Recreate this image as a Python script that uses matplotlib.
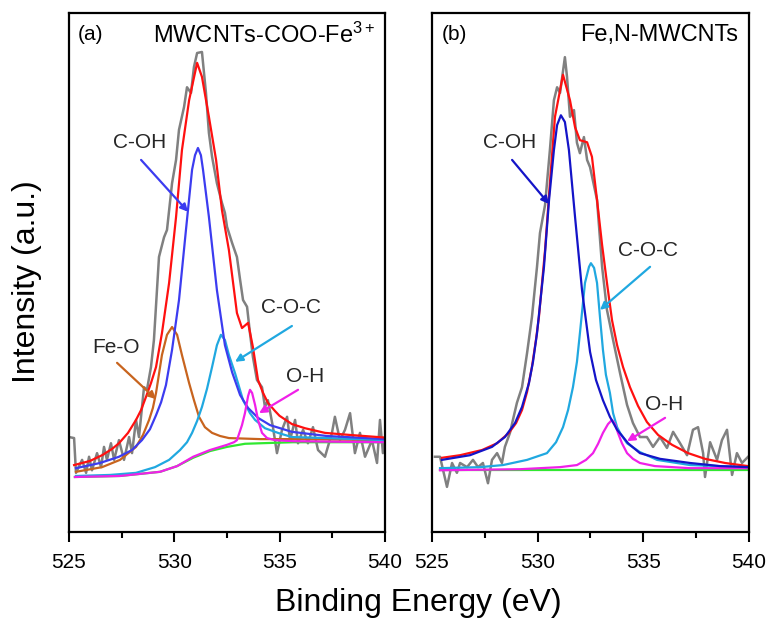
import matplotlib
matplotlib.use('Agg')
import matplotlib.pyplot as plt
from matplotlib.ticker import MultipleLocator

plt.rcParams['font.family'] = ['Liberation Sans', 'DejaVu Sans']
plt.rcParams['mathtext.fontset'] = 'custom'
plt.rcParams['mathtext.rm'] = 'Liberation Sans'
plt.rcParams['mathtext.it'] = 'Liberation Sans:italic'

# ---------------- (a) MWCNTs-COO-Fe3+ ----------------
a_raw_x = [525.00, 525.24, 525.33, 525.62, 525.81, 525.95, 526.09, 526.33, 526.52, 526.66,
           526.80, 526.99, 527.14, 527.37, 527.61, 527.85, 527.99, 528.18, 528.32, 528.56,
           528.70, 528.89, 529.03, 529.27, 529.51, 529.65, 529.89, 530.08, 530.22, 530.46,
           530.60, 530.79, 530.93, 531.08, 531.31, 531.50, 531.64, 531.79, 532.02, 532.26,
           532.40, 532.50, 532.74, 532.97, 533.12, 533.26, 533.45, 533.59, 533.73, 533.92,
           534.16, 534.30, 534.44, 534.68, 534.87, 535.11, 535.35, 535.49, 535.73, 535.87,
           536.11, 536.34, 536.58, 536.82, 537.15, 537.48, 537.62, 537.86, 538.10, 538.34,
           538.57, 538.81, 539.05, 539.38, 539.62, 539.76, 539.90, 540.00]
a_raw_y = [18.3, 18.1, 11.4, 13.9, 11.4, 14.5, 11.9, 15.2, 12.5, 16.4,
           13.9, 17.1, 13.9, 17.7, 13.9, 18.3, 15.2, 21.6, 18.3, 27.9,
           27.4, 31.8, 37.0, 53.0, 56.8, 58.2, 67.2, 71.7, 77.5, 81.9,
           85.7, 84.6, 89.6, 92.3, 92.5, 84.6, 76.9, 72.3, 67.2, 63.4,
           61.5, 58.8, 55.7, 53.0, 48.6, 44.7, 43.4, 38.3, 33.7, 29.3,
           27.9, 24.1, 25.4, 20.2, 15.2, 19.7, 22.2, 17.7, 21.6, 17.1,
           19.7, 17.1, 20.2, 15.8, 14.5, 19.1, 22.2, 17.7, 19.7, 22.9,
           15.2, 19.1, 14.5, 17.7, 13.3, 21.6, 15.2, 17.7]

a_fit_x = [525.24, 526.00, 526.57, 527.04, 527.37, 527.80, 528.18, 528.42, 528.65, 528.89,
           529.13, 529.41, 529.75, 530.08, 530.36, 530.70, 531.08, 531.31, 531.64, 531.98,
           532.26, 532.59, 532.97, 533.21, 533.50, 533.73, 533.97, 534.21, 534.44, 534.78,
           534.99, 535.58, 536.20, 537.15, 538.34, 540.00]
a_fit_y = [12.9, 13.7, 14.8, 16.0, 17.1, 19.1, 21.6, 23.5, 26.0, 28.7,
           31.8, 38.3, 48.0, 60.7, 73.6, 83.2, 90.4, 87.7, 80.0, 71.7,
           62.0, 54.3, 42.2, 39.3, 40.3, 35.6, 29.3, 26.8, 24.9, 23.3,
           22.4, 20.8, 20.0, 19.1, 18.7, 18.2]

a_coh_x = [525.33, 526.47, 527.37, 527.99, 528.46, 528.84, 529.13, 529.37, 529.60, 529.89,
           530.22, 530.55, 530.84, 530.98, 531.12, 531.26, 531.36, 531.64, 532.02, 532.40,
           532.74, 533.12, 533.50, 533.97, 534.54, 535.58, 537.24, 540.00]
a_coh_y = [12.3, 13.3, 14.5, 15.8, 17.7, 19.8, 22.5, 25.0, 28.3, 35.1,
           44.7, 58.2, 69.8, 72.6, 74.0, 72.6, 69.8, 60.7, 46.6, 36.0,
           30.8, 26.4, 23.9, 22.0, 20.6, 19.3, 18.5, 17.9]

a_feo_x = [525.33, 526.57, 527.42, 528.18, 528.51, 528.80, 528.98, 529.13, 529.41, 529.65,
           529.89, 530.13, 530.36, 530.70, 530.93, 531.17, 531.45, 531.79, 532.17, 532.59,
           534.07, 535.63, 540.00]
a_feo_y = [11.6, 12.5, 13.9, 16.4, 18.7, 21.6, 23.9, 26.8, 34.1, 38.0,
           39.5, 38.0, 34.1, 28.7, 25.4, 22.2, 20.2, 19.1, 18.5, 18.1,
           17.9, 17.9, 17.7]

a_coc_x = [525.33, 526.95, 528.18, 529.08, 529.75, 530.27, 530.60, 530.84, 531.08, 531.31,
           531.55, 531.79, 532.02, 532.21, 532.40, 532.59, 532.88, 533.26, 533.59, 533.83,
           534.30, 534.92, 535.58, 537.24, 540.00]
a_coc_y = [10.8, 11.0, 11.4, 12.5, 13.9, 15.8, 17.3, 19.1, 21.4, 24.1,
           27.6, 31.8, 36.0, 38.0, 37.0, 34.1, 30.6, 25.4, 22.9, 21.6,
           20.0, 19.1, 18.3, 18.1, 17.7]

a_oh_x = [525.28, 527.42, 529.32, 530.13, 530.89, 531.69, 532.50, 532.83, 532.97, 533.21,
          533.35, 533.50, 533.59, 533.69, 533.83, 533.97, 534.16, 534.40, 534.78, 535.63, 540.00]
a_oh_y = [10.6, 10.8, 11.6, 12.7, 14.5, 15.8, 16.8, 17.3, 17.7, 20.6,
          22.9, 26.2, 27.4, 26.8, 24.5, 21.6, 19.1, 18.1, 17.7, 17.5, 17.3]

a_bg_x = [525.28, 527.42, 529.32, 530.13, 530.89, 531.69, 532.50, 533.35, 534.07, 535.63, 540.00]
a_bg_y = [10.6, 10.8, 11.6, 12.7, 14.3, 15.6, 16.4, 17.0, 17.1, 17.3, 17.3]

# ---------------- (b) Fe,N-MWCNTs ----------------
b_raw_x = [525.14, 525.38, 525.71, 525.95, 526.18, 526.33, 526.66, 526.94, 527.18, 527.41,
           527.65, 527.84, 528.08, 528.31, 528.45, 528.69, 528.83, 529.02, 529.26, 529.50,
           529.73, 529.97, 530.11, 530.35, 530.58, 530.77, 530.92, 531.06, 531.29, 531.39,
           531.53, 531.72, 531.86, 532.00, 532.19, 532.34, 532.48, 532.81, 533.05, 533.28,
           533.57, 533.90, 534.23, 534.51, 534.84, 535.17, 535.46, 535.79, 536.12, 536.41,
           536.74, 537.07, 537.35, 537.59, 537.83, 537.92, 538.16, 538.49, 538.72, 538.96,
           539.20, 539.43, 539.67, 539.96]
b_raw_y = [14.5, 14.5, 8.7, 13.3, 11.4, 13.3, 12.5, 13.9, 12.5, 13.3,
           9.4, 13.9, 15.2, 13.3, 16.4, 19.1, 21.6, 24.9, 27.9, 34.5,
           41.4, 51.1, 57.6, 63.0, 73.6, 83.2, 85.7, 84.6, 91.5, 87.7,
           80.0, 81.3, 75.0, 73.0, 76.1, 71.7, 70.3, 64.0, 51.1, 42.8,
           37.0, 30.6, 24.5, 21.0, 18.3, 18.3, 16.4, 18.3, 16.2, 19.3,
           17.1, 14.8, 19.7, 20.2, 15.2, 10.6, 17.3, 13.9, 17.7, 19.7,
           11.0, 15.2, 13.3, 14.5]

b_fit_x = [525.47, 526.33, 527.37, 528.08, 528.64, 528.98, 529.26, 529.50, 529.73, 529.92,
           530.06, 530.35, 530.58, 530.82, 531.20, 531.53, 531.77, 532.00, 532.34, 532.57,
           532.81, 533.05, 533.28, 533.52, 533.76, 534.04, 534.37, 534.75, 535.17, 535.70,
           536.36, 537.12, 537.92, 538.87, 539.96]
b_fit_y = [14.3, 14.8, 15.8, 17.1, 19.1, 21.0, 23.5, 27.0, 31.8, 37.0,
           41.4, 54.3, 67.2, 80.0, 88.1, 83.2, 78.0, 75.5, 75.1, 72.3,
           64.0, 55.3, 48.0, 40.8, 36.0, 31.8, 27.9, 24.3, 21.2, 18.7,
           16.8, 15.2, 14.1, 13.3, 12.7]

b_coh_x = [525.47, 526.80, 527.84, 528.45, 528.93, 529.26, 529.59, 529.78, 529.97, 530.30,
           530.54, 530.77, 530.92, 531.10, 531.29, 531.48, 531.77, 532.10, 532.48, 532.76,
           533.09, 533.42, 533.76, 534.28, 534.84, 535.79, 537.21, 538.63, 539.96]
b_coh_y = [13.9, 14.8, 16.4, 18.3, 21.0, 24.1, 28.7, 32.8, 38.3, 51.1,
           64.0, 73.6, 78.4, 80.3, 79.0, 73.6, 60.7, 46.6, 34.7, 29.3,
           25.4, 22.2, 19.7, 17.1, 15.2, 14.1, 13.3, 12.7, 12.5]

b_coc_x = [525.38, 527.27, 528.36, 529.50, 530.44, 530.87, 531.20, 531.44, 531.67, 531.86,
           532.00, 532.24, 532.43, 532.52, 532.67, 532.81, 532.95, 533.09, 533.23, 533.42,
           533.57, 533.76, 533.90, 534.23, 534.84, 535.65, 537.21, 539.91]
b_coc_y = [12.3, 12.5, 12.9, 13.9, 15.2, 17.3, 20.2, 23.5, 27.9, 32.8,
           38.3, 48.0, 51.1, 51.8, 50.9, 48.0, 41.4, 35.1, 30.3, 26.8,
           22.9, 20.2, 19.1, 17.1, 15.4, 13.9, 12.9, 12.5]

b_oh_x = [525.38, 529.16, 531.06, 531.86, 532.29, 532.62, 532.86, 533.09, 533.33, 533.52,
          533.66, 533.80, 533.99, 534.23, 534.51, 534.84, 535.55, 537.21, 539.91]
b_oh_y = [11.9, 12.1, 12.5, 12.9, 13.9, 15.2, 17.0, 19.1, 20.8, 21.6,
          20.8, 19.1, 17.1, 15.2, 14.1, 13.3, 12.7, 12.3, 12.3]

b_bg_x = [525.38, 539.91]
b_bg_y = [11.9, 11.9]

GRAY = '#808080'
RED = '#ff1010'
CYAN = '#20a8e0'
MAG = '#f020e8'
GREEN = '#30e830'
ORANGE = '#c8641e'
TXT = '#262626'
LW = 1.6

fig = plt.figure(figsize=(7.67, 6.21), dpi=100)
ax1 = fig.add_axes([0.0900, 0.1433, 0.4120, 0.8357])
ax2 = fig.add_axes([0.5632, 0.1433, 0.4133, 0.8357])

# panel (a)
ax1.plot(a_raw_x, a_raw_y, color=GRAY, lw=1.8)
ax1.plot(a_bg_x, a_bg_y, color=GREEN, lw=LW)
ax1.plot(a_feo_x, a_feo_y, color=ORANGE, lw=LW)
ax1.plot(a_coc_x, a_coc_y, color=CYAN, lw=LW)
ax1.plot(a_coh_x, a_coh_y, color='#3c3cf0', lw=LW)
ax1.plot(a_oh_x, a_oh_y, color=MAG, lw=LW)
ax1.plot(a_fit_x, a_fit_y, color=RED, lw=LW)

# panel (b)
ax2.plot(b_raw_x, b_raw_y, color=GRAY, lw=1.8)
ax2.plot(b_bg_x, b_bg_y, color=GREEN, lw=LW)
ax2.plot(b_coc_x, b_coc_y, color=CYAN, lw=LW)
ax2.plot(b_oh_x, b_oh_y, color=MAG, lw=LW)
ax2.plot(b_fit_x, b_fit_y, color=RED, lw=LW)
ax2.plot(b_coh_x, b_coh_y, color='#1414c8', lw=LW)


def arrow(ax, text, txy, start, end, color):
    ax.text(txy[0], txy[1], text, fontsize=15, color=TXT, ha='center', va='center')
    ax.annotate('', xy=end, xytext=start,
                arrowprops=dict(arrowstyle='-|>', color=color, lw=1.6,
                                mutation_scale=11, shrinkA=0, shrinkB=0))


arrow(ax1, 'C-OH', (528.37, 75.0), (528.42, 71.7), (530.65, 61.7), '#3c3cf0')
arrow(ax1, 'Fe-O', (527.23, 35.6), (527.28, 32.6), (529.13, 25.6), ORANGE)
arrow(ax1, 'C-O-C', (535.54, 43.2), (535.58, 39.7), (532.88, 32.8), CYAN)
arrow(ax1, 'O-H', (536.20, 29.9), (535.87, 27.4), (534.02, 22.9), MAG)

arrow(ax2, 'C-OH', (528.69, 75.0), (528.79, 71.7), (530.54, 63.2), '#1414c8')
arrow(ax2, 'C-O-C', (535.22, 54.3), (535.32, 51.1), (532.95, 42.8), CYAN)
arrow(ax2, 'O-H', (535.98, 24.5), (536.03, 22.0), (534.23, 17.5), MAG)

ax1.text(0.028, 0.958, '(a)', transform=ax1.transAxes, fontsize=15, va='center', ha='left')
ax1.text(0.968, 0.958, 'MWCNTs-COO-Fe$^{3+}$', transform=ax1.transAxes, fontsize=17,
         va='center', ha='right')
ax2.text(0.032, 0.958, '(b)', transform=ax2.transAxes, fontsize=15, va='center', ha='left')
ax2.text(0.965, 0.958, 'Fe,N-MWCNTs', transform=ax2.transAxes, fontsize=17,
         va='center', ha='right')

for ax in (ax1, ax2):
    ax.set_xlim(525, 540)
    ax.set_ylim(0, 100)
    ax.set_yticks([])
    ax.xaxis.set_major_locator(MultipleLocator(5))
    ax.xaxis.set_minor_locator(MultipleLocator(2.5))
    ax.tick_params(axis='x', which='major', direction='out', length=7, width=1.5,
                   labelsize=15, pad=8)
    ax.tick_params(axis='x', which='minor', direction='out', length=4, width=1.5)
    for s in ax.spines.values():
        s.set_linewidth(1.6)

fig.text(0.5456, 0.029, 'Binding Energy (eV)', fontsize=23, ha='center', va='center')
fig.text(0.035, 0.546, 'Intensity (a.u.)', fontsize=23, rotation=90, ha='center', va='center')

fig.savefig('out.png', dpi=100)
